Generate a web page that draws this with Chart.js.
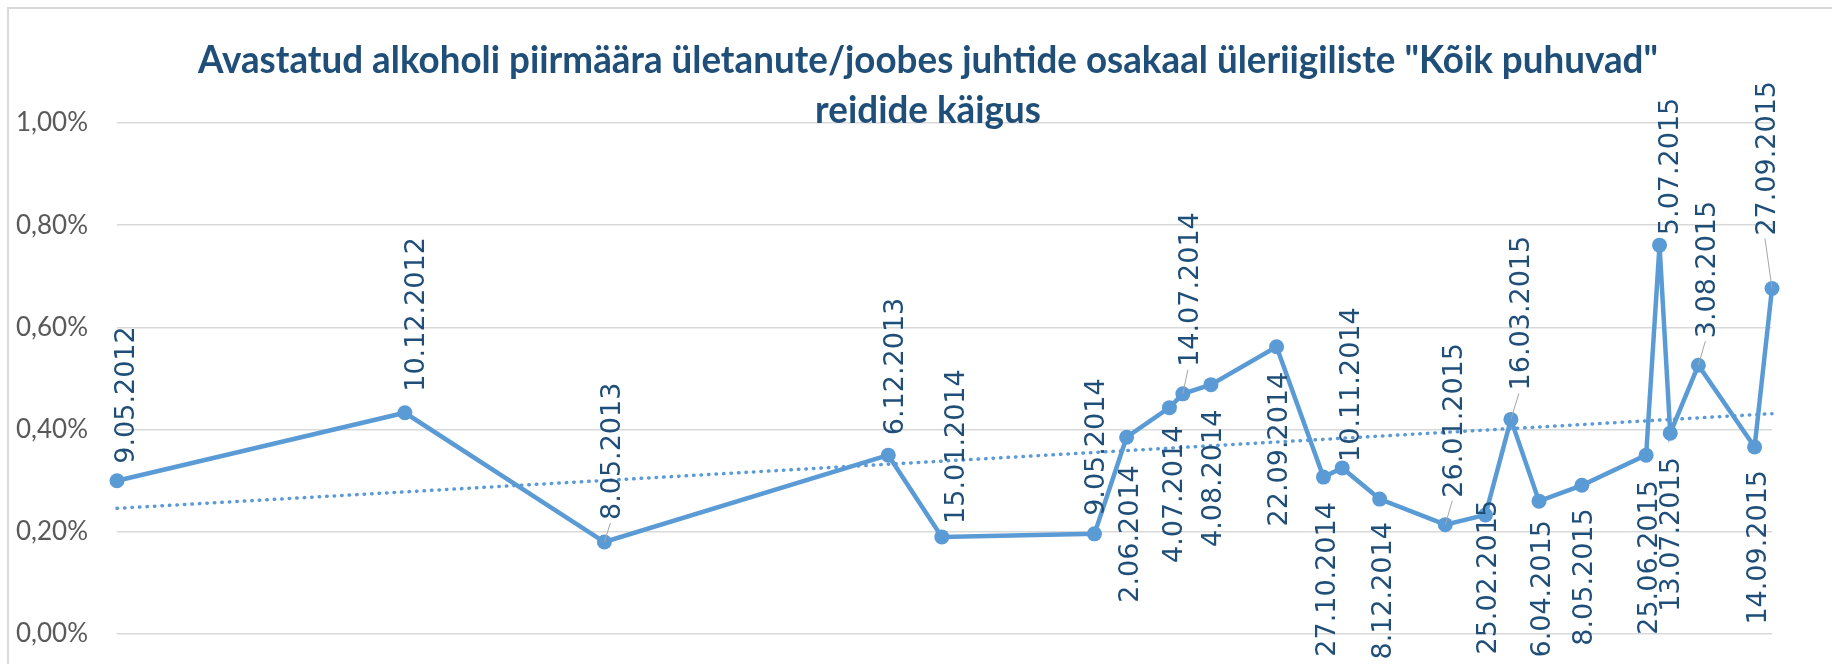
<!DOCTYPE html>
<html>
<head>
<meta charset="utf-8">
<script src="https://cdn.jsdelivr.net/npm/chart.js@4.4.1/dist/chart.umd.min.js"></script>
<style>
  html, body { margin: 0; padding: 0; background: #fff; }
  #wrap { width: 1832px; height: 664px; position: relative; }
</style>
</head>
<body>
<div id="wrap"><canvas id="cvsReidid"></canvas></div>
<script>
// andmed
const titleLines = [
  'Avastatud alkoholi piirmäära ületanute/joobes juhtide osakaal üleriigiliste "Kõik puhuvad"',
  'reidide käigus'
];
const dates = ['9.05.2012', '10.12.2012', '8.05.2013', '6.12.2013', '15.01.2014', '9.05.2014',
  '2.06.2014', '4.07.2014', '14.07.2014', '4.08.2014', '22.09.2014', '27.10.2014', '10.11.2014',
  '8.12.2014', '26.01.2015', '25.02.2015', '16.03.2015', '6.04.2015', '8.05.2015', '25.06.2015',
  '5.07.2015', '13.07.2015', '3.08.2015', '14.09.2015', '27.09.2015'];
// osakaal, %
const values = [0.30, 0.433, 0.18, 0.35, 0.19, 0.196, 0.385, 0.443, 0.47, 0.488, 0.562, 0.307, 0.325,
  0.264, 0.214, 0.233, 0.42, 0.26, 0.291, 0.35, 0.761, 0.393, 0.526, 0.366, 0.676];
const yTickLabels = ['0,00%', '0,20%', '0,40%', '0,60%', '0,80%', '1,00%'];

function toDay(s) {
  const [d, m, y] = s.split('.').map(Number);
  return Date.UTC(y, m - 1, d) / 86400000;
}
const days = dates.map(toDay);
const points = days.map((x, i) => ({ x: x, y: values[i] }));

// lineaarne trend (nagu Excelis)
let mx = 0, my = 0;
days.forEach((x, i) => { mx += x; my += values[i]; });
mx /= days.length; my /= days.length;
let sxy = 0, sxx = 0;
days.forEach((x, i) => { sxy += (x - mx) * (values[i] - my); sxx += (x - mx) * (x - mx); });
const slope = sxy / sxx;
const icpt = my - slope * mx;
const xFirst = days[0], xLast = days[days.length - 1];
const trend = [{ x: xFirst, y: icpt + slope * xFirst }, { x: xLast, y: icpt + slope * xLast }];

// raam
const framePlugin = {
  id: 'frame',
  beforeDraw(chart) {
    const ctx = chart.ctx;
    ctx.save();
    ctx.strokeStyle = '#D9D9D9';
    ctx.lineWidth = 2;
    ctx.beginPath();
    ctx.moveTo(8, chart.height);
    ctx.lineTo(8, 8);
    ctx.lineTo(chart.width, 8);
    ctx.stroke();
    ctx.restore();
  }
};

// pealkiri
const titlePlugin = {
  id: 'titleStretched',
  afterDraw(chart) {
    const ctx = chart.ctx;
    ctx.save();
    ctx.fillStyle = '#1F4E79';
    ctx.font = 'bold 30px Lato';
    ctx.textAlign = 'center';
    ctx.textBaseline = 'alphabetic';
    const sx = 1460 / ctx.measureText(titleLines[0]).width;
    titleLines.forEach((line, i) => {
      ctx.save();
      ctx.translate(928, 73 + i * 50);
      ctx.scale(sx, 1.26);
      ctx.fillText(line, 0, 0);
      ctx.restore();
    });
    ctx.restore();
  }
};

// kuupäevade sildid punktide juures
const dateLabelPlugin = {
  id: 'dateLabels',
  afterDatasetsDraw(chart, args, opts) {
    const ctx = chart.ctx;
    const meta = chart.getDatasetMeta(0);
    ctx.save();
    ctx.font = opts.font;
    ctx.fillStyle = opts.color;
    meta.data.forEach((pt, i) => {
      const [side, dx, gap, leader] = opts.place[i];
      const cx = pt.x + dx;
      const ey = side === 'a' ? pt.y - gap : pt.y + gap;
      if (leader) {
        ctx.strokeStyle = '#A6A6A6';
        ctx.lineWidth = 1;
        ctx.beginPath();
        ctx.moveTo(pt.x, pt.y);
        ctx.lineTo(cx, ey + (side === 'a' ? 3 : -3));
        ctx.stroke();
      }
      ctx.save();
      ctx.translate(cx + opts.cap / 2, ey);
      ctx.rotate(-Math.PI / 2);
      ctx.textAlign = side === 'a' ? 'left' : 'right';
      ctx.textBaseline = 'alphabetic';
      ctx.fillText(dates[i], 0, 0);
      ctx.restore();
    });
    ctx.restore();
  }
};

const cvsReidid = document.getElementById('cvsReidid');
new Chart(cvsReidid, {
  type: 'line',
  data: {
    datasets: [{
      label: 'Osakaal',
      data: points,
      borderColor: '#5B9BD5',
      backgroundColor: '#5B9BD5',
      borderWidth: 4.5,
      pointRadius: 7.5,
      pointBorderWidth: 0,
      pointBackgroundColor: '#5B9BD5',
      tension: 0,
      clip: false
    }, {
      label: 'Trend',
      data: trend,
      borderColor: '#5B9BD5',
      borderWidth: 3.5,
      borderDash: [0.5, 7],
      borderCapStyle: 'round',
      pointRadius: 0,
      clip: false
    }]
  },
  options: {
    responsive: true,
    maintainAspectRatio: false,
    animation: false,
    layout: { padding: { top: 123, right: 60, bottom: 30, left: 0 } },
    plugins: {
      legend: { display: false },
      tooltip: { enabled: false },
      title: { display: false },
      dateLabels: {
        font: '27px "DejaVu Sans"',
        color: '#1F4E79',
        cap: 20,
        // [pool, nihe x, kaugus, juhtjoon]
        place: [
          ['a', 7, 17, 0], ['a', 9, 21, 0], ['a', 6, 22, 1], ['a', 4.5, 20, 0], ['a', 12, 13, 0],
          ['a', 0, 18, 0], ['b', 1, 28, 0], ['b', 3, 18, 0], ['a', 5, 27, 1], ['b', 0, 25, 0],
          ['b', 0, 25, 0], ['b', 2, 25, 0], ['a', 7, 6, 0], ['b', 1, 23, 0], ['a', 7, 27, 1],
          ['b', 1, -15, 0], ['a', 8, 29, 1], ['b', 1, 19, 0], ['b', 0, 23, 0], ['b', 1, 25, 0],
          ['a', 8, 10, 0], ['b', -1, 24, 0], ['a', 7, 27, 1], ['b', 1.5, 23, 0], ['a', -7, 53, 1]
        ]
      }
    },
    scales: {
      x: {
        type: 'linear',
        display: false,
        min: xFirst,
        max: xLast
      },
      y: {
        min: 0,
        max: 1,
        afterFit(scale) {
          scale.width = 117;
          scale.paddingTop = 0;
          scale.paddingBottom = 0;
        },
        border: { display: false },
        grid: { color: '#D9D9D9', lineWidth: 1.5, drawTicks: false },
        ticks: {
          stepSize: 0.2,
          padding: 29,
          color: '#595959',
          font: { family: 'Lato', size: 26 },
          callback: (v, i) => yTickLabels[i]
        }
      }
    }
  },
  plugins: [framePlugin, dateLabelPlugin, titlePlugin]
});
</script>
</body>
</html>
